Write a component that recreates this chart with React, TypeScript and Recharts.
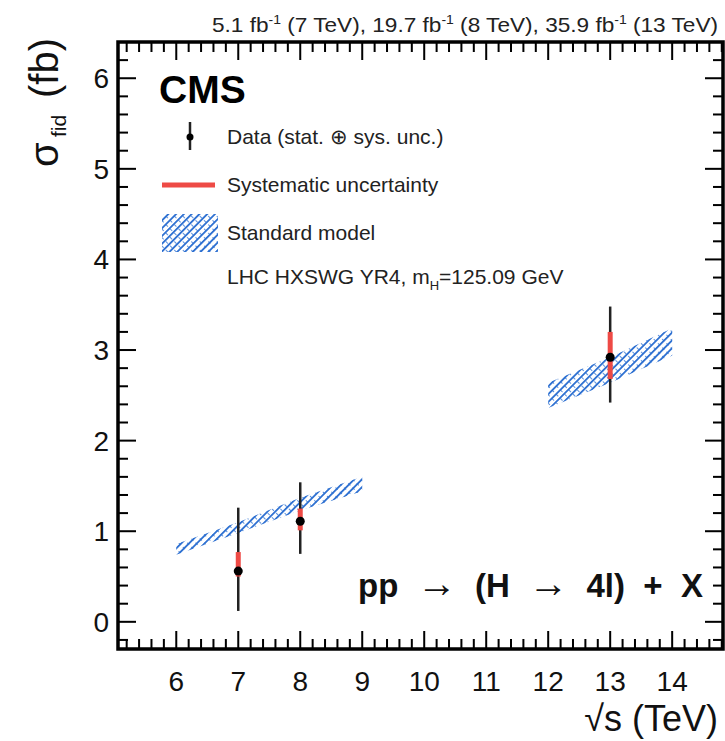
import { ComposedChart, Area, Scatter, ErrorBar, XAxis, YAxis, ReferenceArea } from 'recharts';

// SM prediction band (low, high) read at each sqrt(s)
const smEnergies = [6, 7, 8, 9, 12, 13, 14];
const smLow = [0.74, 0.98, 1.23, 1.44, 2.36, 2.64, 2.94];
const smHigh = [0.86, 1.10, 1.37, 1.60, 2.64, 2.92, 3.24];

// measurements
const dataEnergies = [7, 8, 13];
const dataValues = [0.56, 1.11, 2.92];
const totDown = [0.44, 0.36, 0.50];
const totUp = [0.70, 0.43, 0.56];
const sysDown = [0.06, 0.10, 0.24];
const sysUp = [0.21, 0.14, 0.28];

const xMajorTicks = [6, 7, 8, 9, 10, 11, 12, 13, 14];
const yMajorTicks = [0, 1, 2, 3, 4, 5, 6];

const X_DOMAIN = [5.06, 14.82];
const Y_DOMAIN = [-0.3, 6.4];

const FONT = '"Liberation Sans", Arial, Helvetica, sans-serif';

// plot rectangle (margins + axis sizes below)
const PL = 118;
const PR = 725 - 2;
const PT = 42;
const PB = 741 - 92;
const sx = (v: number) => PL + ((v - X_DOMAIN[0]) / (X_DOMAIN[1] - X_DOMAIN[0])) * (PR - PL);
const sy = (v: number) => PB - ((v - Y_DOMAIN[0]) / (Y_DOMAIN[1] - Y_DOMAIN[0])) * (PB - PT);

// minor ticks every 0.2 inside the frame
const xTicks: number[] = [];
for (let i = 26; i <= 74; i++) xTicks.push(i / 5);
const yTicks: number[] = [];
for (let i = -1; i <= 32; i++) yTicks.push(i / 5);

const isMajor = (v: number) => Math.abs(v - Math.round(v)) < 1e-6;
const tickLen = (v: number) => (isMajor(v) ? 18 : 10);

// SM band: first segment 6-9, second 12-14
const bandData = smEnergies.map((x, i) => ({
  x,
  lowE: x < 10 ? [smLow[i], smHigh[i]] : null,
  highE: x > 10 ? [smLow[i], smHigh[i]] : null,
}));

const points = dataEnergies.map((x, i) => ({
  x,
  y: dataValues[i],
  tot: [totDown[i], totUp[i]],
  sys: [sysDown[i], sysUp[i]],
}));

const XLabel = (props: any) => {
  const v = Number(props.payload.value);
  if (!isMajor(v) || !xMajorTicks.includes(Math.round(v))) return <g />;
  return (
    <text x={props.x} y={Number(props.y) + 42} textAnchor="middle" fontSize={28} fontFamily={FONT} fill="#111">
      {Math.round(v)}
    </text>
  );
};

const YLabel = (props: any) => {
  const v = Number(props.payload.value);
  if (!isMajor(v) || !yMajorTicks.includes(Math.round(v))) return <g />;
  return (
    <text x={Number(props.x) - 9} y={Number(props.y) + 10} textAnchor="end" fontSize={28} fontFamily={FONT} fill="#111">
      {Math.round(v)}
    </text>
  );
};

const Marker = (props: any) => <circle cx={props.cx} cy={props.cy} r={4.5} fill="#000" />;
const NoShape = () => <g />;

// inward tick marks on all four edges, drawn as thin filled rects
function FrameTicks() {
  const rects: any[] = [];
  xTicks.forEach((v, i) => {
    const x = sx(v);
    const len = tickLen(v);
    rects.push(<rect key={`b${i}`} x={x - 1} y={PB - len} width={2} height={len} fill="#000" />);
    rects.push(<rect key={`t${i}`} x={x - 1} y={PT} width={2} height={len} fill="#000" />);
  });
  yTicks.forEach((v, i) => {
    const y = sy(v);
    const len = tickLen(v);
    rects.push(<rect key={`l${i}`} x={PL} y={y - 1} width={len} height={2} fill="#000" />);
    rects.push(<rect key={`r${i}`} x={PR - len} y={y - 1} width={len} height={2} fill="#000" />);
  });
  return <g>{rects}</g>;
}

export default function App() {
  return (
    <div style={{ position: 'absolute', left: 0, top: 0, width: 725, height: 741, background: '#fff' }}>
      <svg width={0} height={0} style={{ position: 'absolute' }}>
        <defs>
          <pattern id="smHatch" patternUnits="userSpaceOnUse" width={5.5} height={5.5} patternTransform="rotate(45)">
            <line x1={0} y1={0} x2={0} y2={5.5} stroke="#2c6fd1" strokeWidth={3.6} />
          </pattern>
          <pattern id="smHatch2" patternUnits="userSpaceOnUse" width={6} height={6} patternTransform="rotate(-45)">
            <line x1={0} y1={0} x2={0} y2={6} stroke="#2c6fd1" strokeWidth={1.6} strokeDasharray="3 3" />
          </pattern>
        </defs>
      </svg>
      <ComposedChart
        width={725}
        height={741}
        data={bandData}
        margin={{ top: PT, right: 725 - PR, bottom: 0, left: 0 }}
      >
        <XAxis
          dataKey="x"
          type="number"
          domain={X_DOMAIN}
          ticks={xTicks}
          interval={0}
          allowDataOverflow
          height={741 - PB}
          tickSize={0}
          tickMargin={0}
          tickLine={false}
          axisLine={false}
          tick={XLabel}
        />
        <YAxis
          type="number"
          domain={Y_DOMAIN}
          ticks={yTicks}
          interval={0}
          allowDataOverflow
          width={PL}
          tickSize={0}
          tickMargin={0}
          tickLine={false}
          axisLine={false}
          tick={YLabel}
        />
        <Area dataKey="lowE" stroke="none" fill="url(#smHatch)" fillOpacity={1} isAnimationActive={false} activeDot={false} />
        <Area dataKey="highE" stroke="none" fill="url(#smHatch)" fillOpacity={1} isAnimationActive={false} activeDot={false} />
        <Area dataKey="lowE" stroke="none" fill="url(#smHatch2)" fillOpacity={1} isAnimationActive={false} activeDot={false} />
        <Area dataKey="highE" stroke="none" fill="url(#smHatch2)" fillOpacity={1} isAnimationActive={false} activeDot={false} />
        <Scatter data={points} dataKey="y" shape={NoShape} isAnimationActive={false}>
          <ErrorBar dataKey="tot" direction="y" width={0} stroke="#222" strokeWidth={2.5} />
          <ErrorBar dataKey="sys" direction="y" width={0} stroke="#ee4a45" strokeWidth={5} />
        </Scatter>
        <Scatter data={points} dataKey="y" shape={Marker} isAnimationActive={false} />
        <ReferenceArea
          x1={X_DOMAIN[0]}
          x2={X_DOMAIN[1]}
          y1={Y_DOMAIN[0]}
          y2={Y_DOMAIN[1]}
          fill="transparent"
          fillOpacity={0}
          stroke="#000"
          strokeWidth={3.5}
          ifOverflow="visible"
        />
      </ComposedChart>

      <svg
        width={725}
        height={741}
        style={{ position: 'absolute', left: 0, top: 0, pointerEvents: 'none' }}
        fontFamily={FONT}
      >
        <FrameTicks />

        <text x={718} y={32} textAnchor="end" fontSize={21} fill="#222" textLength={506} lengthAdjust="spacingAndGlyphs">
          5.1 fb<tspan dy={-8} fontSize={13}>-1</tspan>
          <tspan dy={8}> (7 TeV), 19.7 fb</tspan>
          <tspan dy={-8} fontSize={13}>-1</tspan>
          <tspan dy={8}> (8 TeV), 35.9 fb</tspan>
          <tspan dy={-8} fontSize={13}>-1</tspan>
          <tspan dy={8}> (13 TeV)</tspan>
        </text>

        <text x={159} y={103} fontSize={39} fontWeight="bold" fill="#000">CMS</text>

        <line x1={190} x2={190} y1={122} y2={150} stroke="#222" strokeWidth={2.5} />
        <circle cx={190} cy={137} r={3.5} fill="#000" />
        <text x={227} y={144} fontSize={21} fill="#222">Data (stat. ⊕ sys. unc.)</text>

        <line x1={162} x2={215} y1={185} y2={185} stroke="#ee4a45" strokeWidth={5} />
        <text x={227} y={192} fontSize={21} fill="#222">Systematic uncertainty</text>

        <rect x={162} y={214} width={56} height={38} fill="url(#smHatch)" />
        <rect x={162} y={214} width={56} height={38} fill="url(#smHatch2)" />
        <text x={227} y={240} fontSize={21} fill="#222">Standard model</text>

        <text x={227} y={284} fontSize={21} fill="#222">
          LHC HXSWG YR4, m<tspan dy={6} fontSize={13}>H</tspan>
          <tspan dy={-6}>=125.09 GeV</tspan>
        </text>

        <text x={358} y={597} fontSize={33} fontWeight="bold" fill="#111" xmlSpace="preserve">
          {'pp  '}<tspan fontWeight="normal" fontSize={40}>→</tspan>{'  (H  '}<tspan fontWeight="normal" fontSize={40}>→</tspan>{'  4l)  +  X'}
        </text>

        <text transform="translate(58,167) rotate(-90)" fontSize={40} fill="#111">
          <tspan x={0} y={0}>σ</tspan>
          <tspan x={30} y={8} fontSize={21}>fid</tspan>
          <tspan x={69} y={0}>(fb)</tspan>
        </text>

        <text x={718} y={731} textAnchor="end" fontSize={36} fill="#111">√s (TeV)</text>
      </svg>
    </div>
  );
}
